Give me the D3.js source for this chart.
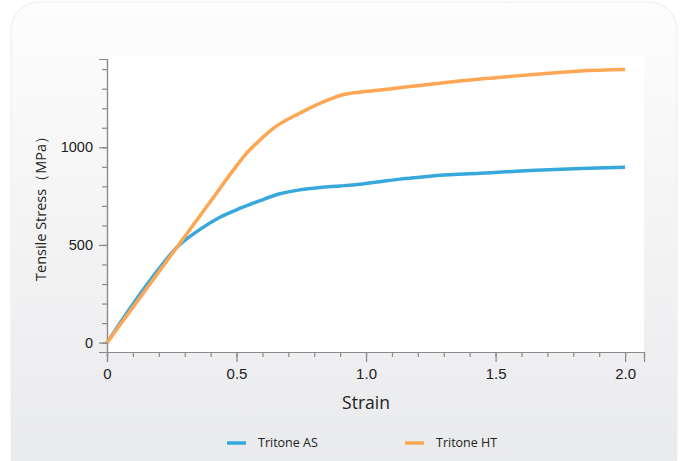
<!DOCTYPE html>
<html>
<head>
<meta charset="utf-8">
<script src="https://cdn.jsdelivr.net/npm/d3@7"></script>
<style>
  body { margin: 0; background: #fff; }
  svg { display: block; font-family: "Open Sans", sans-serif; }
</style>
</head>
<body>
<div id="chart"></div>
<script>
// strain / stress readings for both series
const asStrain = [0, 0.1, 0.19, 0.269, 0.359, 0.436, 0.514, 0.591, 0.668, 0.745, 0.822, 0.9, 0.977, 1.054, 1.131, 1.208, 1.247, 1.44, 1.633, 1.826, 2.0];
const asStress = [0, 197, 360, 487, 580, 642, 688, 727, 762, 782, 794, 802, 811, 824, 837, 847, 852, 867, 881, 891, 898];
const htStrain = [0, 0.269, 0.398, 0.5, 0.539, 0.584, 0.643, 0.745, 0.861, 0.9, 1.054, 1.247, 1.44, 1.633, 1.826, 2.0];
const htStress = [0, 487, 720, 905, 970, 1029, 1098, 1175, 1246, 1265, 1293, 1323, 1350, 1371, 1391, 1398];
const seriesNames = ["Tritone AS", "Tritone HT"];
const seriesColors = ["#37a8dc", "#fda654"];
const xTicks = [0, 0.5, 1.0, 1.5, 2.0];
const xTickLabels = ["0", "0.5", "1.0", "1.5", "2.0"];
const yTicks = [0, 500, 1000];

const W = 681, H = 461;
const margin = { top: 59, right: 37, bottom: 109, left: 107 };
const width = W - margin.left - margin.right;
const height = H - margin.top - margin.bottom;

const svg = d3.select("#chart").append("svg")
  .attr("width", W).attr("height", H);

const defs = svg.append("defs");
const grad = defs.append("linearGradient")
  .attr("id", "bg").attr("x1", 0).attr("y1", 0).attr("x2", 0).attr("y2", 1);
grad.append("stop").attr("offset", "0%").attr("stop-color", "#fdfdfd");
grad.append("stop").attr("offset", "100%").attr("stop-color", "#e8e9eb");

// card
svg.append("rect")
  .attr("x", 11).attr("y", 2)
  .attr("width", 666).attr("height", 490)
  .attr("rx", 28)
  .attr("fill", "url(#bg)")
  .attr("stroke", "#ececec");

const g = svg.append("g").attr("transform", `translate(${margin.left},${margin.top})`);

const x = d3.scaleLinear().domain([0, 2.073]).range([0, width]);
const y = d3.scaleLinear().domain([-48, 1452]).range([height, 0]);

// plot background
g.append("rect")
  .attr("x", 0).attr("y", -3)
  .attr("width", width).attr("height", height + 3)
  .attr("fill", "#fff");

// minor ticks
const xAxisMinor = d3.axisBottom(x).tickValues(d3.range(0, 21).map(i => i / 10))
  .tickSize(5).tickFormat("");
const yAxisMinor = d3.axisLeft(y).tickValues(d3.range(0, 15).map(i => i * 100))
  .tickSize(5).tickFormat("");

const gxMinor = g.append("g").attr("transform", `translate(0,${height})`).call(xAxisMinor);
const gyMinor = g.append("g").call(yAxisMinor);

const xAxis = d3.axisBottom(x).tickValues(xTicks)
  .tickFormat((d, i) => xTickLabels[i]).tickSize(10).tickPadding(6);
const yAxis = d3.axisLeft(y).tickValues(yTicks).tickFormat(d3.format("d"))
  .tickSize(8).tickPadding(6);

const gx = g.append("g").attr("transform", `translate(0,${height})`).call(xAxis);
const gy = g.append("g").call(yAxis);

[gxMinor, gyMinor, gx, gy].forEach(a => {
  a.selectAll("path.domain").attr("stroke", "#8a8a8a").attr("stroke-width", 1.2);
  a.selectAll(".tick line").attr("stroke", "#8a8a8a").attr("stroke-width", 1.2);
});
gx.selectAll("text").attr("font-size", 15).attr("fill", "#222");
gy.selectAll("text").attr("font-size", 14.5).attr("fill", "#222").attr("dy", "0.32em");

// axis titles
svg.append("text")
  .attr("x", margin.left + x(1.0)).attr("y", 409)
  .attr("text-anchor", "middle")
  .attr("font-size", 17.5).attr("fill", "#222")
  .text("Strain");

svg.append("text")
  .attr("transform", `translate(46,205) rotate(-90)`)
  .attr("text-anchor", "middle")
  .attr("font-size", 14.5).attr("fill", "#222")
  .text("Tensile Stress（MPa）");

// lines
const line = d3.line()
  .x(d => x(d[0]))
  .y(d => y(d[1]))
  .curve(d3.curveMonotoneX);

const series = [
  d3.zip(asStrain, asStress),
  d3.zip(htStrain, htStress)
];

g.selectAll("path.series")
  .data(series)
  .join("path")
  .attr("class", "series")
  .attr("fill", "none")
  .attr("stroke", (d, i) => seriesColors[i])
  .attr("stroke-width", 3.5)
  .attr("stroke-linejoin", "round")
  .attr("d", line);

// legend
const legend = svg.append("g").attr("transform", "translate(227,443)");
const items = legend.selectAll("g")
  .data(seriesNames)
  .join("g")
  .attr("transform", (d, i) => `translate(${i * 178},0)`);
items.append("line")
  .attr("x1", 0).attr("x2", 19)
  .attr("stroke", (d, i) => seriesColors[i])
  .attr("stroke-width", 3.5);
items.append("text")
  .attr("x", 31).attr("dy", "0.35em")
  .attr("font-size", 12.5).attr("fill", "#222")
  .text(d => d);
</script>
</body>
</html>
